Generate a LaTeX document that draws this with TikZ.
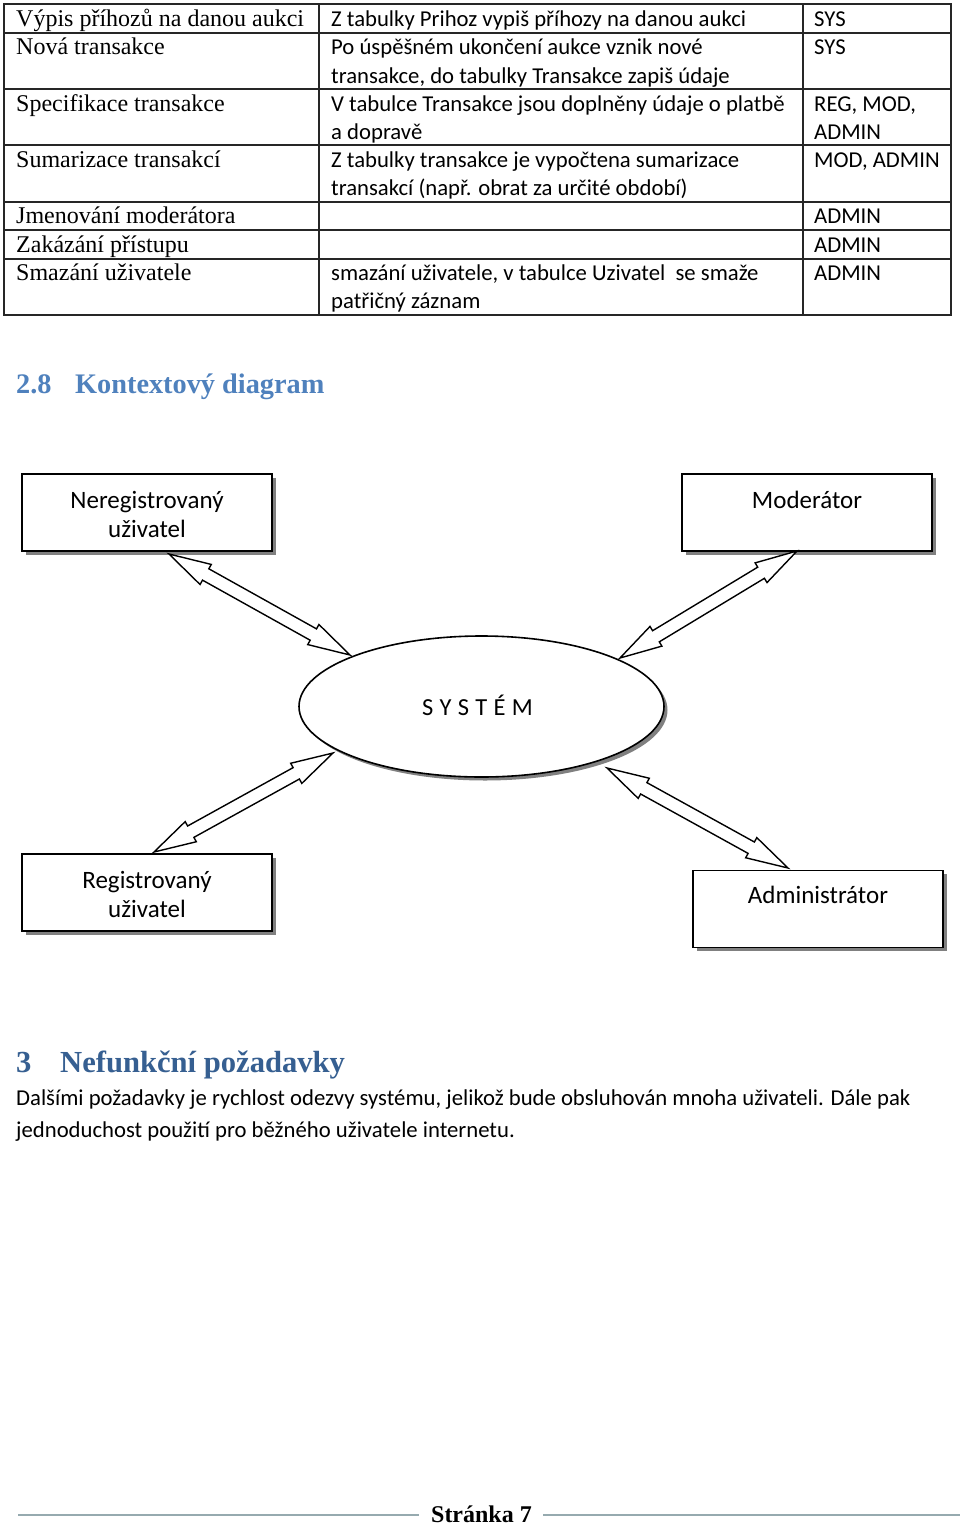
\documentclass[tikz,border=0pt]{standalone}
\usepackage{fontspec}
\setmainfont{Liberation Serif}
\newfontfamily\calfont{Carlito}
\usetikzlibrary{shapes.geometric,shadows,calc}
\definecolor{hblue}{RGB}{79,129,189}
\definecolor{hdblue}{RGB}{54,95,145}
\definecolor{shadowgray}{RGB}{128,128,128}
\definecolor{footline}{RGB}{150,170,175}
\tikzset{
  tline/.style={line width=1.2pt, black!85},
  ser/.style={font=\fontsize{24}{28}\selectfont, anchor=base west, inner sep=0pt},
  sans/.style={font=\calfont\fontsize{22.7}{28}\selectfont, anchor=base west, inner sep=0pt},
  actor/.style={draw, line width=1.6pt, fill=white, minimum width=250pt, minimum height=77pt,
    inner sep=0pt,
    drop shadow={shadow xshift=3.5pt, shadow yshift=-3.5pt, fill=shadowgray, opacity=1}},
  actortext/.style={anchor=base, inner sep=0pt, font=\calfont\fontsize{25}{30}\selectfont},
  sysnode/.style={draw, ellipse, line width=1.6pt, fill=white, minimum width=365pt, minimum height=141pt,
    inner sep=0pt,
    drop shadow={shadow xshift=3.5pt, shadow yshift=-3.5pt, fill=shadowgray, opacity=1}},
  blockarrow/.style={draw=black, line width=1.4pt, fill=white, line join=miter},
  hsec/.style={anchor=base west, inner sep=0pt, font=\bfseries\fontsize{28.3}{32}\selectfont, text=hblue},
  hchap/.style={anchor=base west, inner sep=0pt, font=\bfseries\fontsize{30.6}{34}\selectfont, text=hdblue},
}
\newcommand\blockarr[2]{%
  \coordinate (h1) at ($(#1)!42pt!(#2)$);
  \coordinate (h2) at ($(#2)!42pt!(#1)$);
  \draw[blockarrow] (#1)
    -- ($(h1)!11.5pt!90:(#2)$) -- ($(h1)!6.5pt!90:(#2)$)
    -- ($(h2)!6.5pt!-90:(#1)$) -- ($(h2)!11.5pt!-90:(#1)$)
    -- (#2)
    -- ($(h2)!11.5pt!90:(#1)$) -- ($(h2)!6.5pt!90:(#1)$)
    -- ($(h1)!6.5pt!-90:(#2)$) -- ($(h1)!11.5pt!-90:(#2)$) -- cycle;}
\begin{document}
\begin{tikzpicture}[x=1pt,y=-1pt]
\useasboundingbox[fill=white] (0,0) rectangle (960,1528);
% table
\draw[tline] (4,4) rectangle (951,315);
\foreach \yy in {33,89,145,202,230,259} \draw[tline] (4,\yy) -- (951,\yy);
\draw[tline] (319,4) -- (319,315);
\draw[tline] (803,4) -- (803,315);
\foreach \n/\yy/\t in {1/27/{Výpis příhozů na danou aukci},2/55/{Nová transakce},3/111/{Specifikace transakce},4/167/{Sumarizace transakcí},5/223/{Jmenování moderátora},6/252/{Zakázání přístupu},7/280/{Smazání uživatele}}
  \node[ser] (ca\n) at (16,\yy) {\t};
\foreach \n/\yy/\t in {1/27/{Z tabulky Prihoz vypiš příhozy na danou aukci},2/55/{Po úspěšném ukončení aukce vznik nové},3/83/{transakce, do tabulky Transakce zapiš údaje},4/111/{V tabulce Transakce jsou doplněny údaje o platbě},5/139/{a dopravě},6/167/{Z tabulky transakce je vypočtena sumarizace},7/195/{transakcí (např. obrat za určité období)},8/280/{smazání uživatele, v tabulce Uzivatel\ \ se smaže},9/308/{patřičný záznam}}
  \node[sans] (cb\n) at (331,\yy) {\t};
\foreach \n/\yy/\t in {1/27/{SYS},2/55/{SYS},3/111/{REG, MOD,},4/139/{ADMIN},5/167/{MOD, ADMIN},6/223/{ADMIN},7/252/{ADMIN},8/280/{ADMIN}}
  \node[sans] (cc\n) at (814,\yy) {\t};
% heading
\node[hsec] (h28) at (16,393) {2.8};
\node[hsec] (h28t) at (75,393) {Kontextový diagram};
% diagram
\node[actor] (nereg) at (147,512.5) {};
\node[actortext] (nereg1) at (147,508) {Neregistrovaný};
\node[actortext] (nereg2) at (147,537) {uživatel};
\node[actor] (mod) at (807,512.5) {};
\node[actortext] (mod1) at (807,508) {Moderátor};
\node[sysnode] (sys) at (481.5,706.5) {};
\node[anchor=base, inner sep=0pt, font=\calfont\fontsize{24.5}{28}\selectfont] (syst) at (477.5,715) {S\hspace{6.3pt}Y\hspace{6.3pt}S\hspace{6.3pt}T\hspace{6.3pt}É\hspace{6.3pt}M};
\node[actor] (reg) at (147,892.5) {};
\node[actortext] (reg1) at (147,888) {Registrovaný};
\node[actortext] (reg2) at (147,917) {uživatel};
\node[actor] (admin) at (818,909) {};
\node[actortext] (admin1) at (818,903) {Administrátor};
\coordinate (a1s) at (169,554); \coordinate (a1e) at (350,655);
\coordinate (a2s) at (797,551); \coordinate (a2e) at (620,658);
\coordinate (a3s) at (333,753); \coordinate (a3e) at (154,852);
\coordinate (a4s) at (607,768); \coordinate (a4e) at (788,868);
\blockarr{a1s}{a1e}
\blockarr{a2s}{a2e}
\blockarr{a3s}{a3e}
\blockarr{a4s}{a4e}
% chapter 3
\node[hchap] (h3) at (16,1072) {3};
\node[hchap] (h3t) at (60,1072) {Nefunkční požadavky};
\node[sans] (p1) at (16,1105) {Dalšími požadavky je rychlost odezvy systému, jelikož bude obsluhován mnoha uživateli. Dále pak};
\node[sans] (p2) at (16,1137) {jednoduchost použití pro běžného uživatele internetu.};
% footer
\node[anchor=base, inner sep=0pt, font=\bfseries\fontsize{24}{28}\selectfont] (pg) at (481.5,1522) {Stránka 7};
\draw[footline, line width=1.5pt] (18,1515) -- (419,1515);
\draw[footline, line width=1.5pt] (543,1515) -- (960,1515);
\end{tikzpicture}
\end{document}
